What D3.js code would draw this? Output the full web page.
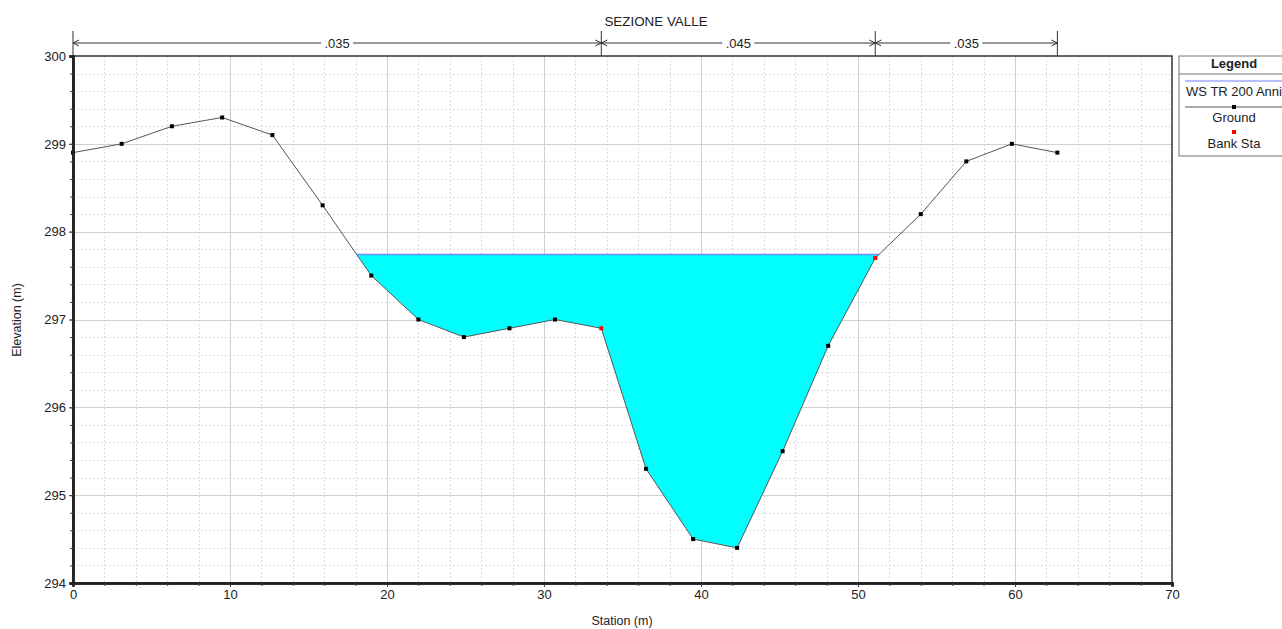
<!DOCTYPE html>
<html>
<head>
<meta charset="utf-8">
<script src="https://cdn.jsdelivr.net/npm/d3@7"></script>
<style>
  body { margin: 0; background: #fff; }
  svg { display: block; font-family: "Liberation Sans", Arial, sans-serif; }
  .grid-minor { stroke: #dcdcdc; stroke-dasharray: 2,2; stroke-width: 1; }
  .grid-major { stroke: #d0d0d0; stroke-width: 1; }
</style>
</head>
<body>
<div id="canvas"></div>
<script>
// ground profile (station, elevation)
var stations   = [0, 3.1, 6.3, 9.5, 12.7, 15.9, 19.0, 22.0, 24.9, 27.8, 30.7, 33.65, 36.5, 39.5, 42.3, 45.2, 48.1, 51.1, 54.0, 56.9, 59.8, 62.7];
var elevations = [298.9, 299.0, 299.2, 299.3, 299.1, 298.3, 297.5, 297.0, 296.8, 296.9, 297.0, 296.9, 295.3, 294.5, 294.4, 295.5, 296.7, 297.7, 298.2, 298.8, 299.0, 298.9];
var bankStations = [33.65, 51.1];
var wsElevation = 297.74;
// manning n values and their station limits
var nValues = [".035", ".045", ".035"];
var nLimits = [0, 33.65, 51.1, 62.7];
var xTicks = [0, 10, 20, 30, 40, 50, 60, 70];
var yTicks = [294, 295, 296, 297, 298, 299, 300];

var W = 1282, H = 629;
var margin = {top: 56, right: 110, bottom: 46, left: 73};

var svg = d3.select("#canvas").append("svg")
  .attr("width", W).attr("height", H);

var x = d3.scaleLinear().domain([0, 70]).range([margin.left, 1172]);
var y = d3.scaleLinear().domain([294, 300]).range([H - margin.bottom, margin.top]);

var ground = stations.map(function(s, i) { return {s: s, e: elevations[i]}; });

// grid
var g = svg.append("g");
g.selectAll(".gx").data(d3.range(2, 70, 2)).enter().append("line")
  .attr("class", function(d) { return d % 10 === 0 ? "grid-major" : "grid-minor"; })
  .attr("x1", function(d) { return Math.round(x(d)) + 0.5; }).attr("x2", function(d) { return Math.round(x(d)) + 0.5; })
  .attr("y1", y(300)).attr("y2", y(294));
g.selectAll(".gy").data(d3.range(1, 30).map(function(i) { return 294 + i * 0.2; })).enter().append("line")
  .attr("class", function(d, i) { return (i + 1) % 5 === 0 ? "grid-major" : "grid-minor"; })
  .attr("x1", x(0)).attr("x2", x(70))
  .attr("y1", function(d) { return Math.round(y(d)) + 0.5; })
  .attr("y2", function(d) { return Math.round(y(d)) + 0.5; });

// water area: ground below water surface
var poly = [];
for (var i = 0; i < ground.length - 1; i++) {
  var a = ground[i], b = ground[i + 1];
  if (a.e <= wsElevation) poly.push(a);
  if ((a.e - wsElevation) * (b.e - wsElevation) < 0) {
    var t = (wsElevation - a.e) / (b.e - a.e);
    poly.push({s: a.s + t * (b.s - a.s), e: wsElevation});
  }
}
svg.append("path")
  .datum(poly)
  .attr("fill", "#00ffff")
  .attr("d", d3.line().x(function(d) { return x(d.s); }).y(function(d) { return y(d.e); }));

var wsExt = d3.extent(poly, function(d) { return d.s; });
svg.append("line")
  .attr("x1", x(wsExt[0])).attr("x2", x(wsExt[1]))
  .attr("y1", y(wsElevation)).attr("y2", y(wsElevation))
  .attr("stroke", "#6f8cff").attr("stroke-width", 1.5);

// ground line + points
svg.append("path")
  .datum(ground)
  .attr("fill", "none").attr("stroke", "#555").attr("stroke-width", 1)
  .attr("d", d3.line().x(function(d) { return x(d.s); }).y(function(d) { return y(d.e); }));

svg.selectAll(".pt").data(ground).enter().append("rect")
  .attr("x", function(d) { return x(d.s) - 2; })
  .attr("y", function(d) { return y(d.e) - 2; })
  .attr("width", 4).attr("height", 4)
  .attr("fill", function(d) { return bankStations.indexOf(d.s) >= 0 ? "#ff0000" : "#000"; });

// frame
svg.append("rect")
  .attr("x", x(0)).attr("y", y(300))
  .attr("width", x(70) - x(0)).attr("height", y(294) - y(300))
  .attr("fill", "none").attr("stroke", "#333").attr("stroke-width", 1.5);

// axes
svg.append("g").attr("transform", "translate(0," + y(294) + ")")
  .call(d3.axisBottom(x).tickValues(xTicks).tickSize(4).tickPadding(3).tickFormat(d3.format("d")));
svg.append("g").attr("transform", "translate(0," + y(294) + ")")
  .call(d3.axisBottom(x).tickValues(d3.range(2, 70, 2).filter(function(d) { return d % 10; })).tickSize(3).tickFormat(""));
svg.append("g").attr("transform", "translate(" + x(0) + ",0)")
  .call(d3.axisLeft(y).tickValues(yTicks).tickSize(4).tickPadding(3).tickFormat(d3.format("d")));
svg.append("g").attr("transform", "translate(" + x(0) + ",0)")
  .call(d3.axisLeft(y).tickValues(d3.range(1, 30).map(function(i) { return 294 + i * 0.2; })).tickSize(3).tickFormat(""));
svg.selectAll(".domain").attr("stroke", "#222").attr("stroke-width", 2.5);
svg.selectAll(".tick line").attr("stroke", "#444");
svg.selectAll(".tick text").attr("font-size", 13).attr("fill", "#222");

svg.append("text").attr("x", 622).attr("y", 625).attr("text-anchor", "middle")
  .attr("font-size", 12.5).attr("fill", "#222").text("Station (m)");
svg.append("text").attr("transform", "translate(21,320) rotate(-90)").attr("text-anchor", "middle")
  .attr("font-size", 12.5).attr("fill", "#222").text("Elevation (m)");

// title
svg.append("text").attr("x", 656).attr("y", 26).attr("text-anchor", "middle")
  .attr("font-size", 13.4).attr("fill", "#222").text("SEZIONE VALLE");

// manning n dimension lines
var dimY = 43;
var dim = svg.append("g").attr("stroke", "#333").attr("fill", "none");
nLimits.forEach(function(s) {
  dim.append("line").attr("x1", x(s)).attr("x2", x(s)).attr("y1", 31).attr("y2", y(300));
});
nValues.forEach(function(n, i) {
  var x0 = x(nLimits[i]), x1 = x(nLimits[i + 1]), xm = (x0 + x1) / 2;
  var tw = 32;
  dim.append("line").attr("x1", x0).attr("x2", xm - tw / 2).attr("y1", dimY).attr("y2", dimY);
  dim.append("line").attr("x1", xm + tw / 2).attr("x2", x1).attr("y1", dimY).attr("y2", dimY);
  dim.append("path").attr("d", "M" + (x0 + 6) + "," + (dimY - 3) + "L" + x0 + "," + dimY + "L" + (x0 + 6) + "," + (dimY + 3));
  dim.append("path").attr("d", "M" + (x1 - 6) + "," + (dimY - 3) + "L" + x1 + "," + dimY + "L" + (x1 - 6) + "," + (dimY + 3));
  svg.append("text").attr("x", xm).attr("y", dimY + 5).attr("text-anchor", "middle")
    .attr("font-size", 13).attr("fill", "#222").text(n);
});

// legend
var lg = svg.append("g").attr("transform", "translate(1179,56)");
lg.append("rect").attr("width", 115).attr("height", 100)
  .attr("fill", "#fff").attr("stroke", "#777").attr("stroke-width", 1);
lg.append("line").attr("x1", 0).attr("x2", 115).attr("y1", 18).attr("y2", 18).attr("stroke", "#777");
lg.append("text").attr("x", 55).attr("y", 12).attr("text-anchor", "middle")
  .attr("font-size", 13).attr("font-weight", "bold").attr("fill", "#222").text("Legend");
lg.append("line").attr("x1", 6).attr("x2", 115).attr("y1", 25).attr("y2", 25)
  .attr("stroke", "#a0a8ff").attr("stroke-width", 1.5);
lg.append("text").attr("x", 55).attr("y", 40).attr("text-anchor", "middle")
  .attr("font-size", 13).attr("fill", "#222").text("WS TR 200 Anni");
lg.append("line").attr("x1", 6).attr("x2", 115).attr("y1", 51).attr("y2", 51)
  .attr("stroke", "#555");
lg.append("rect").attr("x", 53).attr("y", 49).attr("width", 4).attr("height", 4).attr("fill", "#000");
lg.append("text").attr("x", 55).attr("y", 66).attr("text-anchor", "middle")
  .attr("font-size", 13).attr("fill", "#222").text("Ground");
lg.append("rect").attr("x", 53).attr("y", 74).attr("width", 4).attr("height", 4).attr("fill", "#ff0000");
lg.append("text").attr("x", 55).attr("y", 92).attr("text-anchor", "middle")
  .attr("font-size", 13).attr("fill", "#222").text("Bank Sta");
</script>
</body>
</html>
